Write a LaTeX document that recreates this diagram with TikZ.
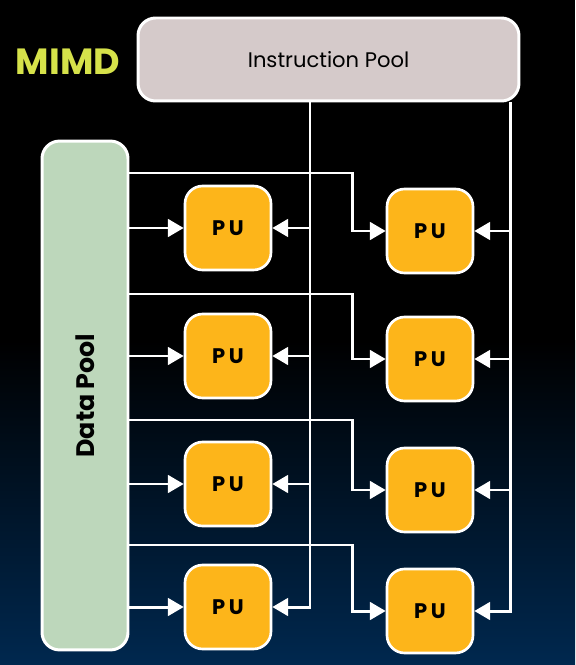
\documentclass[tikz,border=0pt]{standalone}
\usepackage{fontspec}
\setmainfont{Poppins}
\usepackage{tikz}
\usetikzlibrary{arrows.meta}

\definecolor{instrGray}{HTML}{D5CACA}
\definecolor{dataGreen}{HTML}{BDD7BB}
\definecolor{puOrange}{HTML}{FDB51A}
\definecolor{mimdYellow}{HTML}{D6E24A}
\definecolor{bgBlue}{HTML}{00284F}

\tikzset{
    pool/.style={draw=white, line width=1.7pt, rounded corners=10pt, text=black},
    pu/.style={draw=white, line width=1.5pt, fill=puOrange, rounded corners=10pt,
        minimum width=1.72cm, minimum height=1.68cm, font=\large\bfseries},
    wire/.style={white, line width=1.7pt}
}

\begin{document}
\begin{tikzpicture}[x=0.02cm, y=-0.02cm, >={Triangle[length=9pt,width=10pt]}]
        \def\jogX{352}
        \def\bendY{340}

        % background
        \fill[black] (0,0) rectangle (575,\bendY);
        \shade[top color=black, bottom color=bgBlue] (0,\bendY) rectangle (575,665);
        \useasboundingbox (0,0) rectangle (575,665);

        \node[text=mimdYellow, font=\huge\bfseries] (title) at (68,62) {MIMD};

        \node[pool, fill=instrGray, minimum width=7.62cm, minimum height=1.66cm, font=\large\mdseries] (ipool) at (328.5,59.5) {Instruction Pool};
        \node[pool, fill=dataGreen, minimum width=10.18cm, minimum height=1.72cm, rotate=90, font=\Large\bfseries] (dpool) at (85,395.5) {Data Pool};

        \node[pu] (pu1) at (228,228) {P\,U};
        \node[pu] (pu2) at (228,356) {P\,U};
        \node[pu] (pu3) at (228,484) {P\,U};
        \node[pu] (pu4) at (228,607) {P\,U};

        \node[pu] (pu5) at (430,231) {P\,U};
        \node[pu] (pu6) at (430,359) {P\,U};
        \node[pu] (pu7) at (430,490) {P\,U};
        \node[pu] (pu8) at (430,611) {P\,U};

        \coordinate (iL) at (310,0);
        \coordinate (iR) at (510,0);

        % instruction streams
        \draw[wire, ->] (ipool.south -| iL) |- (pu4.east);
        \draw[wire, ->] (iL |- pu1) -- (pu1.east);
        \draw[wire, ->] (iL |- pu2) -- (pu2.east);
        \draw[wire, ->] (iL |- pu3) -- (pu3.east);

        \draw[wire, ->] (ipool.south -| iR) |- (pu8.east);
        \draw[wire, ->] (iR |- pu5) -- (pu5.east);
        \draw[wire, ->] (iR |- pu6) -- (pu6.east);
        \draw[wire, ->] (iR |- pu7) -- (pu7.east);

        % data streams
        \draw[wire, ->] (dpool.south |- pu1) -- (pu1.west);
        \draw[wire, ->] (dpool.south |- pu2) -- (pu2.west);
        \draw[wire, ->] (dpool.south |- pu3) -- (pu3.west);
        \draw[wire, ->] (dpool.south |- pu4) -- (pu4.west);

        \draw[wire, ->] (dpool.south |- 0,173) -- (\jogX,173) |- (pu5.west);
        \draw[wire, ->] (dpool.south |- 0,294) -- (\jogX,294) |- (pu6.west);
        \draw[wire, ->] (dpool.south |- 0,420) -- (\jogX,420) |- (pu7.west);
        \draw[wire, ->] (dpool.south |- 0,545) -- (\jogX,545) |- (pu8.west);
    \end{tikzpicture}
\end{document}
